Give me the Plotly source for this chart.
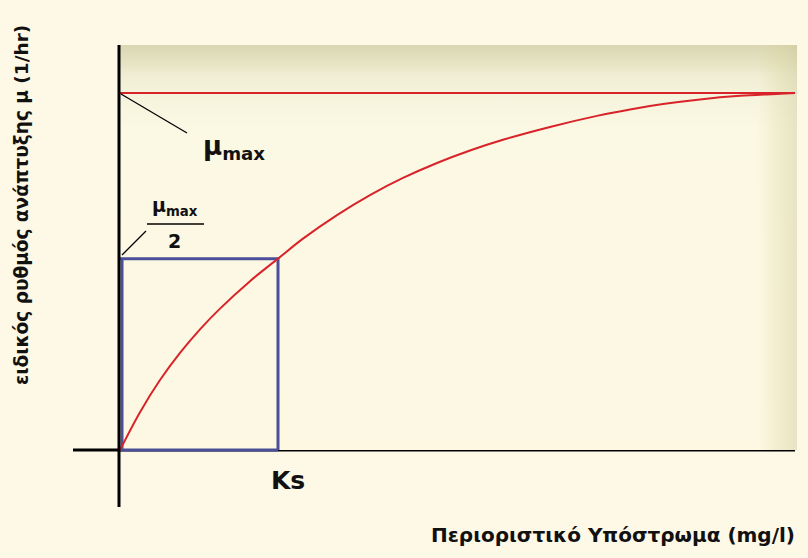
import plotly.graph_objects as go

# ---- data ----
substrate = [0, 2, 4, 6, 8, 10, 13, 15.8, 18.3, 21.7, 25, 28.3, 31.7, 35,
             38.3, 43, 47.7, 51, 54.3, 58, 62, 66, 67.5]
growth_rate = [0, 0.106, 0.196, 0.272, 0.338, 0.396, 0.473, 0.536, 0.592, 0.658,
               0.714, 0.762, 0.804, 0.839, 0.869, 0.905, 0.936, 0.954, 0.969,
               0.982, 0.992, 0.998, 1.0]
mu_max = 1.0
mu_half = 0.536
Ks = 15.8
x_end = 67.5

# ---- geometry helpers (pixel -> paper) ----
L, R, T, B = 73, 797, 45, 507
W, H = 808, 558
def px(x):
    return (x - L) / (R - L)
def py(y):
    return (B - y) / (B - T)

x_range = [-4.7, 67.7]
y_range = [-0.1597, 1.1345]

bg = "#FEF8E6"
fig = go.Figure()

# panel background gradient (decoration)
panel_x = [0, 67.7, 67.7, 0, 0]
panel_y = [0, 0, 1.1345, 1.1345, 0]
fig.add_trace(go.Scatter(
    x=panel_x, y=panel_y, mode="lines", line=dict(width=0), fill="toself",
    fillgradient=dict(type="vertical", start=0, stop=1.1345,
                      colorscale=[[0, "#FEF8E3"], [0.79, "#FBF8E3"], [0.88, "#F6F3DD"],
                                  [0.926, "#F0EDD4"], [0.95, "#E8E5C6"], [1, "#DAD6B2"]]),
    hoverinfo="skip", showlegend=False))
fig.add_trace(go.Scatter(
    x=[63.8, 67.7, 67.7, 63.8, 63.8], y=[0, 0, 1.1345, 1.1345, 0], mode="lines",
    line=dict(width=0), fill="toself",
    fillgradient=dict(type="horizontal", start=63.8, stop=67.7,
                      colorscale=[[0, "rgba(215,210,150,0)"], [0.5, "rgba(215,210,150,0.28)"],
                                  [1, "rgba(200,195,150,0.4)"]]),
    hoverinfo="skip", showlegend=False))

# mu_max line
fig.add_trace(go.Scatter(x=[0, x_end], y=[mu_max, mu_max], mode="lines",
                         line=dict(color="#D8232A", width=2), hoverinfo="skip", showlegend=False))
# Ks box
fig.add_trace(go.Scatter(x=[0, Ks, Ks], y=[mu_half, mu_half, 0], mode="lines",
                         line=dict(color="#4B4F9A", width=3), hoverinfo="skip", showlegend=False))
fig.add_trace(go.Scatter(x=[0, Ks], y=[0, 0], mode="lines",
                         line=dict(color="#4B4F9A", width=3), hoverinfo="skip", showlegend=False))
fig.add_trace(go.Scatter(x=[0.2, 0.2], y=[0, mu_half], mode="lines",
                         line=dict(color="#4B4F9A", width=3), hoverinfo="skip", showlegend=False))
# Monod curve
fig.add_trace(go.Scatter(x=substrate, y=growth_rate, mode="lines",
                         line=dict(color="#D8232A", width=2, shape="spline", smoothing=1),
                         hoverinfo="skip", showlegend=False))

shapes = [
    # axes
    dict(type="line", xref="x", yref="paper", x0=-0.1, x1=-0.1, y0=0, y1=1,
         line=dict(color="black", width=3), layer="above"),
    dict(type="line", xref="paper", yref="y", x0=0, x1=px(795), y0=0, y1=0,
         line=dict(color="black", width=3), layer="below"),
    # leader lines
    dict(type="line", xref="paper", yref="paper", x0=px(121), y0=py(94), x1=px(187), y1=py(133),
         line=dict(color="black", width=1.3)),
    dict(type="line", xref="paper", yref="paper", x0=px(122), y0=py(255), x1=px(146), y1=py(231),
         line=dict(color="black", width=1.3)),
    # fraction bar
    dict(type="line", xref="paper", yref="paper", x0=px(147), y0=py(224), x1=px(204), y1=py(224),
         line=dict(color="black", width=1.5)),
]

font_family = "DejaVu Sans, Verdana, sans-serif"
ann = [
    dict(text="<b>μ<sub>max</sub></b>", x=px(234), y=py(148), font=dict(size=26)),
    dict(text="<b>μ<sub>max</sub></b>", x=px(175), y=py(206), font=dict(size=19)),
    dict(text="<b>2</b>", x=px(174), y=py(241), font=dict(size=19)),
    dict(text="<b>Ks</b>", x=px(288), y=py(480), font=dict(size=25)),
    dict(text="<b>Περιοριστικό Υπόστρωμα (mg/l)</b>", x=px(613), y=py(535), font=dict(size=20)),
    dict(text="<b>ειδικός ρυθμός ανάπτυξης μ (1/hr)</b>", x=px(21), y=py(205),
         font=dict(size=18.5), textangle=-90),
]
annotations = []
for a in ann:
    a.update(xref="paper", yref="paper", showarrow=False, xanchor="center", yanchor="middle")
    a["font"].update(family=font_family, color="#111111")
    annotations.append(a)

fig.update_layout(
    width=W, height=H,
    margin=dict(l=L, r=W - R, t=T, b=H - B, pad=0),
    paper_bgcolor=bg, plot_bgcolor=bg,
    xaxis=dict(range=x_range, visible=False, fixedrange=True),
    yaxis=dict(range=y_range, visible=False, fixedrange=True),
    shapes=shapes, annotations=annotations, showlegend=False,
)
fig.write_html("out.html", post_script="document.body.style.margin='0';",
               config={"displayModeBar": False})
